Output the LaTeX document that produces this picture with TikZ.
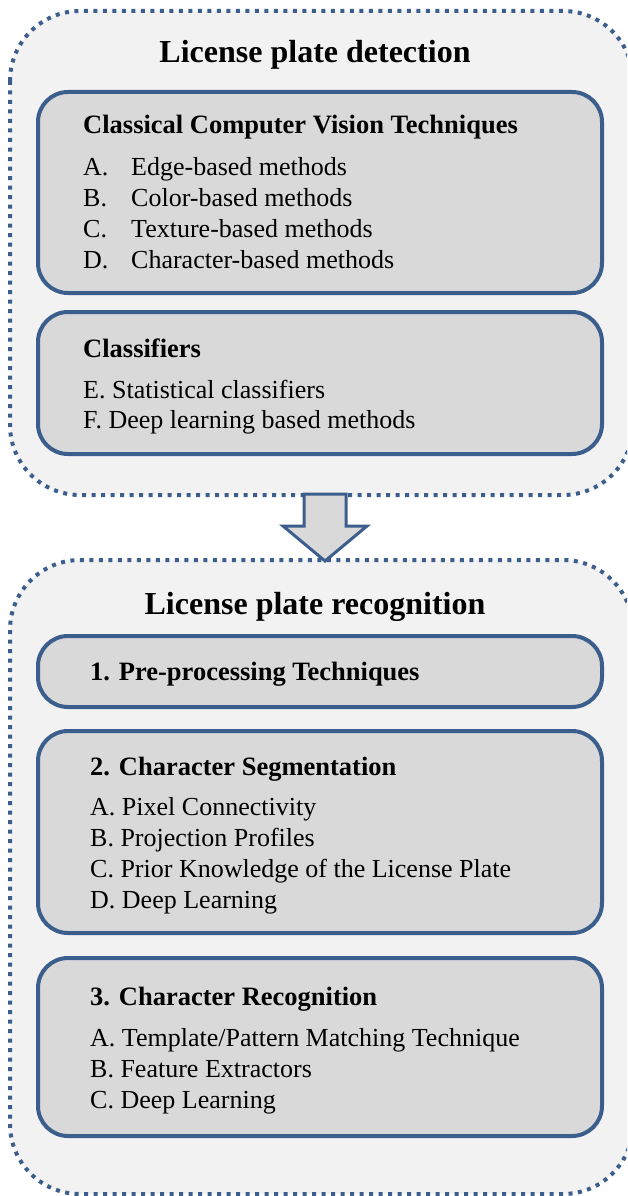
\documentclass[tikz,border=0pt]{standalone}
\usepackage{fontspec}
\setmainfont{Liberation Serif}
\definecolor{bord}{RGB}{59,94,140}
\definecolor{outerfill}{RGB}{242,242,242}
\definecolor{innerfill}{RGB}{217,217,217}
\begin{document}
\begin{tikzpicture}[x=1pt,y=-1pt,
  outerbox/.style={draw=bord,fill=outerfill,line width=4pt,dash pattern=on 4pt off 5.5pt,rounded corners=70pt},
  innerbox/.style={draw=bord,fill=innerfill,line width=4pt,rounded corners=30pt},
  ttl/.style={anchor=base,font=\fontsize{32}{37}\selectfont\bfseries,inner sep=0pt},
  head/.style={anchor=base west,font=\fontsize{26.5}{31}\selectfont\bfseries,inner sep=0pt},
  item/.style={anchor=base west,font=\fontsize{26}{31}\selectfont,inner sep=0pt},
  arrowshape/.style={draw=bord,fill=innerfill,line width=3pt,line join=miter}
]
\useasboundingbox (0,0) rectangle (628,1196);
\fill[white] (0,0) rectangle (628,1196);
% outer boxes
\begin{scope}
\clip (0,0) rectangle (627,1196);
\draw[outerbox] (10,11) rectangle (633,495);
\draw[outerbox] (10,560) rectangle (633,1194);
\end{scope}
% inner boxes
\draw[innerbox] (38,92) rectangle (602,293);
\draw[innerbox] (38,312) rectangle (602,454);
\draw[innerbox] (38,636) rectangle (602,707);
\draw[innerbox] (38,731) rectangle (602,933);
\draw[innerbox] (38,958) rectangle (602,1136);
% arrow
\draw[arrowshape] (304,494) -- (346,494) -- (346,526) -- (367,526) -- (325,561) -- (283,526) -- (304,526) -- cycle;
% texts
\node[ttl] (t1) at (315,63) {License plate detection};
\node[head] (h1) at (83,133) {Classical Computer Vision Techniques};
\node[item] (a1) at (83,175) {\makebox[48pt][l]{A.}Edge-based methods};
\node[item] (b1) at (83,206) {\makebox[48pt][l]{B.}Color-based methods};
\node[item] (c1) at (83,237) {\makebox[48pt][l]{C.}Texture-based methods};
\node[item] (d1) at (83,268) {\makebox[48pt][l]{D.}Character-based methods};
\node[head] (h2) at (83,357) {Classifiers};
\node[item] (e1) at (83,398) {E. Statistical classifiers};
\node[item] (f1) at (83,428) {F. Deep learning based methods};
\node[ttl] (t2) at (315,614) {License plate recognition};
\node[head] (h3) at (90,680) {1. Pre-processing Techniques};
\node[head] (h4) at (90,775) {2. Character Segmentation};
\node[item] (a2) at (90,815) {A. Pixel Connectivity};
\node[item] (b2) at (90,846) {B. Projection Profiles};
\node[item] (c2) at (90,877) {C. Prior Knowledge of the License Plate};
\node[item] (d2) at (90,908) {D. Deep Learning};
\node[head] (h5) at (90,1005) {3. Character Recognition};
\node[item] (a3) at (90,1046) {A. Template/Pattern Matching Technique};
\node[item] (b3) at (90,1077) {B. Feature Extractors};
\node[item] (c3) at (90,1108) {C. Deep Learning};
\end{tikzpicture}
\end{document}
